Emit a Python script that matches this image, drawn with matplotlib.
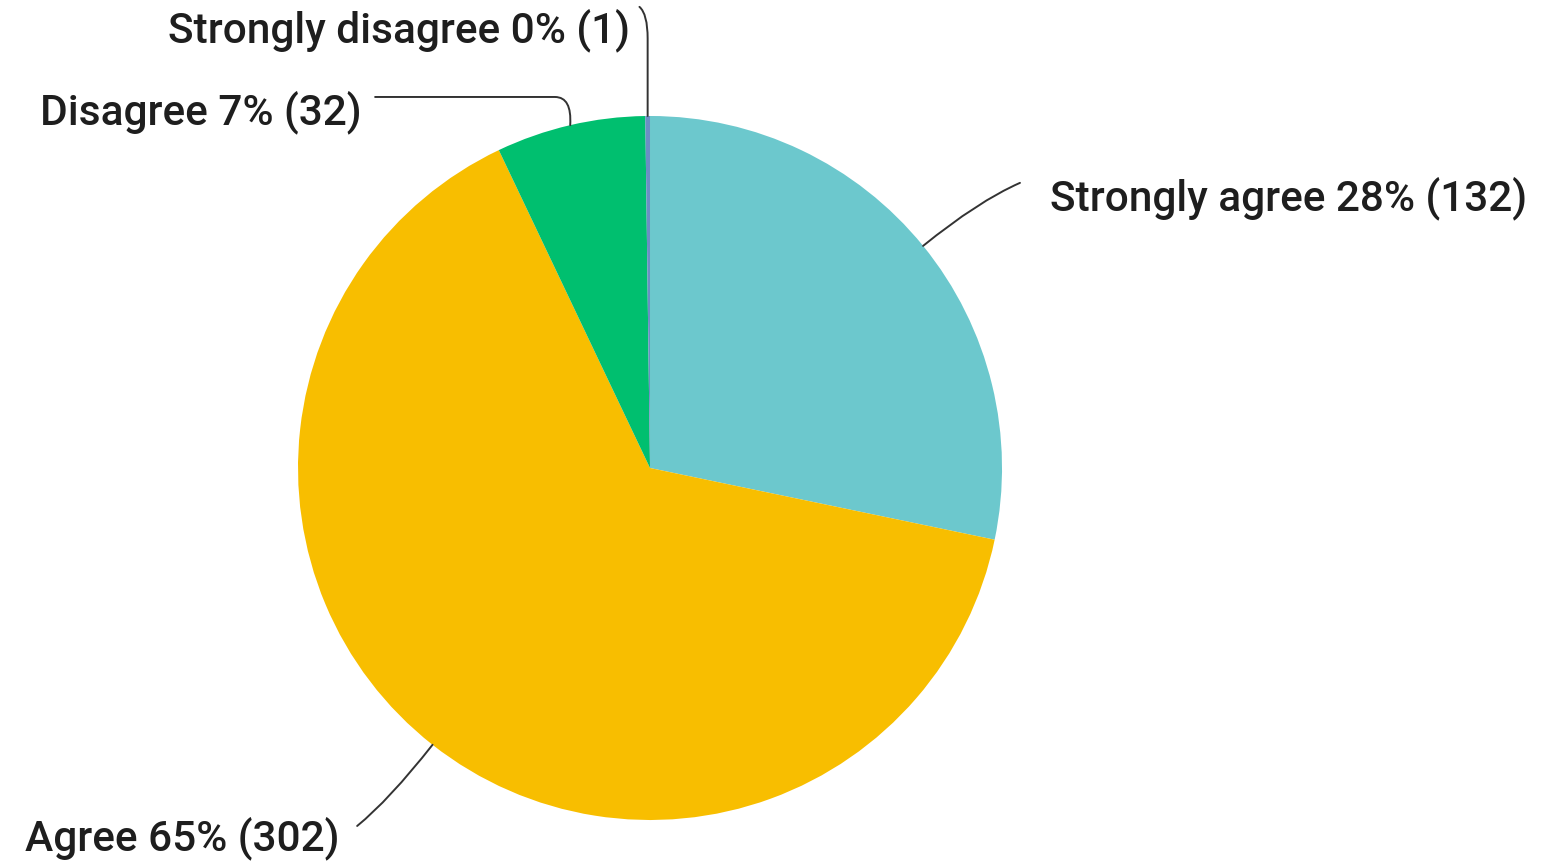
import numpy as np
import matplotlib.pyplot as plt
from matplotlib.path import Path
from matplotlib.patches import PathPatch

labels = ['Strongly agree', 'Agree', 'Disagree', 'Strongly disagree']
counts = [132, 302, 32, 1]
colors = ['#6CC8CD', '#F8BE00', '#00BF6F', '#6B8EC4']

plt.rcParams['font.family'] = ['Roboto', 'DejaVu Sans']

fig = plt.figure(figsize=(15.42, 8.61), dpi=100)
ax = fig.add_axes([0, 0, 1, 1])

wedges, _ = ax.pie(counts, colors=colors, startangle=90, counterclock=False,
                   radius=1, wedgeprops=dict(linewidth=0))

# canvas extents around the unit pie
ax.set_xlim(-1.8466, 2.534)
ax.set_ylim(-1.1165, 1.3295)
ax.set_aspect('equal', adjustable='box')
ax.axis('off')

total = sum(counts)
pcts = [round(100 * c / total) for c in counts]
texts = [f'{l} {p}% ({c})' for l, p, c in zip(labels, pcts, counts)]


def anchor(w):
    a = np.deg2rad((w.theta1 + w.theta2) / 2)
    return np.cos(a), np.sin(a)


def leader(verts, codes):
    ax.add_patch(PathPatch(Path(verts, codes), fill=False, edgecolor='#333333',
                           linewidth=1.4, capstyle='round'))


txt_kw = dict(fontsize=30.5, color='#1e1e1e', va='center', fontweight='medium')

# strongly agree - right side
x0, y0 = anchor(wedges[0])
leader([(x0, y0), (x0 * 1.2, y0 * 1.2), (1.051, 0.810)],
       [Path.MOVETO, Path.CURVE3, Path.CURVE3])
ax.text(1.136, 0.767, texts[0], ha='left', **txt_kw)

# agree - lower left
x0, y0 = anchor(wedges[1])
leader([(x0, y0), (x0 * 1.2, y0 * 1.2), (-0.832, -1.017)],
       [Path.MOVETO, Path.CURVE3, Path.CURVE3])
ax.text(-0.881, -1.051, texts[1], ha='right', **txt_kw)

# disagree - elbow to the left
x0, y0 = anchor(wedges[2])
leader([(-0.781, 1.054), (-0.27, 1.054), (x0 + 0.005, 1.054), (x0, y0)],
       [Path.MOVETO, Path.LINETO, Path.CURVE3, Path.CURVE3])
ax.text(-0.818, 1.011, texts[2], ha='right', **txt_kw)

# strongly disagree - straight up then hooks left
x0, y0 = anchor(wedges[3])
leader([(x0, y0), (x0, 1.22), (x0, 1.29), (-0.03, 1.31)],
       [Path.MOVETO, Path.LINETO, Path.CURVE3, Path.CURVE3])
ax.text(-0.057, 1.244, texts[3], ha='right', **txt_kw)

fig.savefig('out.png', dpi=100, facecolor='white')
